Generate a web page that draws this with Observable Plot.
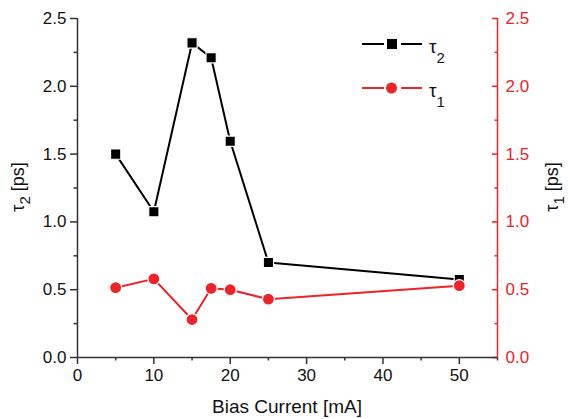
<!DOCTYPE html>
<html>
<head>
<meta charset="utf-8">
<script src="https://cdn.jsdelivr.net/npm/d3@7"></script>
<script src="https://cdn.jsdelivr.net/npm/@observablehq/plot@0.6"></script>
<style>
  html, body { margin: 0; padding: 0; background: #fff; }
  #chart { position: relative; width: 568px; height: 419px; }
</style>
</head>
<body>
<div id="chart"></div>
<script>
const biasCurrent = [5, 10, 15, 17.5, 20, 25, 50];
const tau2 = [1.50, 1.075, 2.32, 2.21, 1.595, 0.70, 0.575];
const tau1 = [0.515, 0.58, 0.28, 0.51, 0.50, 0.43, 0.53];
const xTicks = [0, 10, 20, 30, 40, 50];
const xMinor = [5, 15, 25, 35, 45, 55];
const yTicks = [0, 0.5, 1.0, 1.5, 2.0, 2.5];
const yMinor = [0.25, 0.75, 1.25, 1.75, 2.25];
const seriesNames = ["τ2", "τ1"];

const RED = "#ee2229";
const AX = "#333";
const data2 = biasCurrent.map((x, i) => ({x, y: tau2[i]}));
const data1 = biasCurrent.map((x, i) => ({x, y: tau1[i]}));
const fmt = d => d.toFixed(1);

const plot = Plot.plot({
  width: 568,
  height: 419,
  marginLeft: 77,
  marginRight: 71,
  marginTop: 18,
  marginBottom: 62,
  style: {fontFamily: "'Liberation Sans', Arial, sans-serif", fontSize: "17px", background: "white", color: "#111"},
  x: {domain: [0, 55]},
  y: {domain: [0, 2.5]},
  marks: [
    Plot.axisX({ticks: xTicks, tickSize: 7, tickPadding: 4, tickFormat: d => d, label: null, stroke: AX, fill: "#111", strokeWidth: 1.5}),
    Plot.axisX({ticks: xMinor, tickSize: 3.5, text: null, label: null, stroke: AX, strokeWidth: 1.5}),
    Plot.axisY({ticks: yTicks, tickSize: 7, tickPadding: 4, tickFormat: fmt, label: null, stroke: AX, fill: "#111", strokeWidth: 1.5}),
    Plot.axisY({ticks: yMinor, tickSize: 3.5, text: null, label: null, stroke: AX, strokeWidth: 1.5}),
    Plot.axisY({anchor: "right", ticks: yTicks, tickSize: 0, tickPadding: 8, tickFormat: fmt, label: null, fill: RED}),
    Plot.axisY({anchor: "right", ticks: yTicks, tickSize: -6, text: null, label: null, stroke: RED, strokeWidth: 1.5}),
    Plot.axisY({anchor: "right", ticks: yMinor, tickSize: -3.5, text: null, label: null, stroke: RED, strokeWidth: 1.5}),
    Plot.ruleX([0], {stroke: AX, strokeWidth: 1.5}),
    Plot.ruleY([0], {stroke: AX, strokeWidth: 1.5}),
    Plot.ruleX([55], {stroke: RED, strokeWidth: 1.5}),
    Plot.line(data2, {x: "x", y: "y", stroke: "black", strokeWidth: 2}),
    Plot.dot(data2, {x: "x", y: "y", symbol: "square", r: 5.8, fill: "black", stroke: "white", strokeWidth: 1.2}),
    Plot.line(data1, {x: "x", y: "y", stroke: RED, strokeWidth: 2}),
    Plot.dot(data1, {x: "x", y: "y", symbol: "circle", r: 6, fill: RED, stroke: "white", strokeWidth: 1.2})
  ]
});

document.getElementById("chart").appendChild(plot);

const svg = d3.select(plot);
const FF = "'Liberation Sans', Arial, sans-serif";

function subText(g, base, sub, opts) {
  const t = g.append("text")
    .attr("font-family", FF)
    .attr("font-size", opts.size)
    .attr("fill", opts.fill || "#111")
    .attr("text-anchor", opts.anchor || "start");
  t.append("tspan").text(base);
  t.append("tspan").attr("dy", opts.subDy).attr("font-size", opts.subSize).text(sub);
  if (opts.rest) t.append("tspan").attr("dy", -opts.subDy).text(opts.rest);
  return t;
}

// x axis title
svg.append("text")
  .attr("x", 287).attr("y", 413)
  .attr("text-anchor", "middle")
  .attr("font-family", FF).attr("font-size", 19).attr("fill", "#111")
  .text("Bias Current [mA]");

// left y title
const gl = svg.append("g").attr("transform", "translate(24,187) rotate(-90)");
subText(gl, "τ", "2", {size: 18, subSize: 15, subDy: 6, rest: " [ps]", anchor: "middle"});

// right y title
const gr = svg.append("g").attr("transform", "translate(558,187) rotate(-90)");
subText(gr, "τ", "1", {size: 18, subSize: 15, subDy: 6, rest: " [ps]", anchor: "middle"});

// legend
const leg = svg.append("g");
const legendItems = [
  {name: seriesNames[0], color: "black", sym: "square", y: 44},
  {name: seriesNames[1], color: RED, sym: "circle", y: 88}
];
legendItems.forEach(it => {
  leg.append("line").attr("x1", 362).attr("x2", 384).attr("y1", it.y).attr("y2", it.y)
    .attr("stroke", it.color).attr("stroke-width", 2);
  leg.append("line").attr("x1", 401).attr("x2", 422).attr("y1", it.y).attr("y2", it.y)
    .attr("stroke", it.color).attr("stroke-width", 2);
  if (it.sym === "square") {
    leg.append("rect").attr("x", 387).attr("y", it.y - 5).attr("width", 10).attr("height", 10)
      .attr("fill", it.color);
  } else {
    leg.append("circle").attr("cx", 391.5).attr("cy", it.y).attr("r", 5.5)
      .attr("fill", it.color);
  }
  subText(leg.append("g").attr("transform", `translate(429,${it.y + 9})`), it.name[0], it.name[1],
    {size: 19, subSize: 15, subDy: 10});
});
</script>
</body>
</html>
